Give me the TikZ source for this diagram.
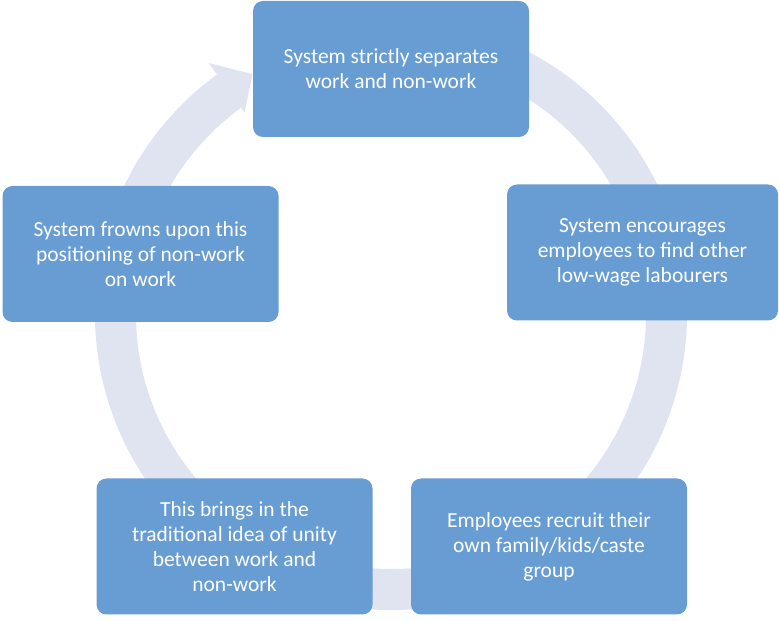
\documentclass[tikz,border=0pt]{standalone}
\usepackage{fontspec}
\setmainfont{Carlito}
\definecolor{boxblue}{RGB}{104,157,211}
\definecolor{ringgrey}{RGB}{223,228,240}

\begin{document}
\begin{tikzpicture}[x=1pt,y=1pt,
    stage/.style={rectangle,rounded corners=10pt,fill=boxblue,text=white,
      minimum width=276pt,minimum height=136pt,align=center,
      font=\fontsize{21.5}{25}\selectfont}]
      \useasboundingbox (0,0) rectangle (779,621);
      \fill[ringgrey,shift={(391,307)}]
        (80:296) arc[start angle=80,end angle=-234,radius=296]
        -- (126:310) -- (120:277) -- (126:249) -- (126:255)
        arc[start angle=-234,end angle=80,radius=255] -- cycle;

      \node[stage] (sep)   at (391,552)     {System strictly separates\\work and non-work};
      \node[stage,minimum width=271pt] (enc) at (642.5,368.5)
        {System encourages\\employees to find other\\low-wage labourers};
      \node[stage] (recr)  at (549,74.5)    {Employees recruit their\\own family/kids/caste\\group};
      \node[stage] (unity) at (234.5,74.5)  {This brings in the\\traditional idea of unity\\between work and\\non-work};
      \node[stage] (frown) at (140.5,367)   {System frowns upon this\\positioning of non-work\\on work};
    \end{tikzpicture}
\end{document}
